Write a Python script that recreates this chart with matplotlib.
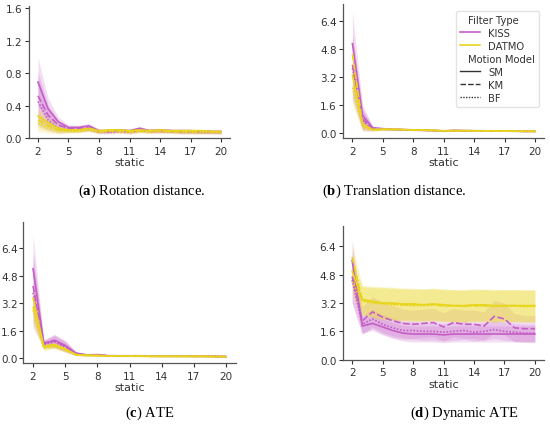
import numpy as np
import matplotlib
matplotlib.use("Agg")
import matplotlib.pyplot as plt
from matplotlib.lines import Line2D

plt.rcParams['font.family'] = ['DejaVu Sans']
plt.rcParams['mathtext.fontset'] = 'custom'
plt.rcParams['mathtext.rm'] = 'Liberation Serif'
plt.rcParams['mathtext.bf'] = 'Liberation Serif:bold'

static = list(range(2, 21))
filters = ["KISS", "DATMO"]
models = ["SM", "KM", "BF"]
xticks = [2, 5, 8, 11, 14, 17, 20]
captions = [r"($\mathbf{a}$) Rotation distance.", r"($\mathbf{b}$) Translation distance.",
            r"($\mathbf{c}$) ATE", r"($\mathbf{d}$) Dynamic ATE"]

# (a) Rotation distance
a_kiss_sm = [0.69, 0.36, 0.20, 0.13, 0.13, 0.15, 0.09, 0.09, 0.10, 0.09, 0.12, 0.09, 0.10, 0.09, 0.09, 0.09, 0.08, 0.08, 0.08]
a_kiss_km = [0.52, 0.28, 0.16, 0.12, 0.12, 0.13, 0.09, 0.08, 0.09, 0.08, 0.10, 0.09, 0.09, 0.09, 0.08, 0.08, 0.08, 0.08, 0.07]
a_kiss_bf = [0.45, 0.22, 0.12, 0.10, 0.10, 0.11, 0.07, 0.07, 0.08, 0.07, 0.09, 0.08, 0.08, 0.08, 0.07, 0.07, 0.07, 0.07, 0.07]
a_datmo_sm = [0.27, 0.19, 0.12, 0.10, 0.10, 0.12, 0.09, 0.10, 0.10, 0.09, 0.10, 0.09, 0.10, 0.09, 0.09, 0.09, 0.09, 0.08, 0.08]
a_datmo_km = [0.22, 0.15, 0.10, 0.09, 0.09, 0.11, 0.08, 0.09, 0.09, 0.08, 0.09, 0.08, 0.09, 0.08, 0.08, 0.08, 0.08, 0.08, 0.07]
a_datmo_bf = [0.18, 0.12, 0.09, 0.08, 0.08, 0.10, 0.07, 0.08, 0.08, 0.07, 0.08, 0.08, 0.08, 0.08, 0.07, 0.07, 0.07, 0.07, 0.07]
a_kiss_err = [0.30, 0.13, 0.06, 0.03, 0.03, 0.03, 0.02, 0.02, 0.02, 0.02, 0.02, 0.02, 0.02, 0.02, 0.02, 0.02, 0.02, 0.02, 0.02]
a_datmo_err = [0.10, 0.06, 0.04, 0.02, 0.02, 0.02, 0.02, 0.02, 0.02, 0.02, 0.02, 0.02, 0.02, 0.02, 0.02, 0.02, 0.02, 0.02, 0.02]

# (b) Translation distance
b_kiss_sm = [5.10, 1.00, 0.30, 0.25, 0.22, 0.20, 0.18, 0.17, 0.15, 0.12, 0.15, 0.14, 0.13, 0.13, 0.12, 0.12, 0.11, 0.10, 0.10]
b_kiss_km = [3.90, 0.80, 0.25, 0.23, 0.21, 0.19, 0.17, 0.16, 0.14, 0.12, 0.14, 0.13, 0.13, 0.12, 0.12, 0.11, 0.11, 0.10, 0.10]
b_kiss_bf = [3.70, 0.70, 0.22, 0.22, 0.20, 0.18, 0.17, 0.16, 0.14, 0.12, 0.14, 0.13, 0.12, 0.12, 0.11, 0.11, 0.10, 0.10, 0.10]
b_datmo_sm = [3.30, 0.45, 0.20, 0.22, 0.22, 0.20, 0.18, 0.17, 0.15, 0.13, 0.14, 0.14, 0.13, 0.13, 0.12, 0.12, 0.11, 0.10, 0.10]
b_datmo_km = [4.50, 0.50, 0.20, 0.21, 0.21, 0.19, 0.17, 0.16, 0.15, 0.13, 0.14, 0.13, 0.13, 0.12, 0.12, 0.11, 0.11, 0.10, 0.10]
b_datmo_bf = [2.60, 0.40, 0.18, 0.20, 0.20, 0.19, 0.17, 0.16, 0.14, 0.12, 0.13, 0.13, 0.12, 0.12, 0.11, 0.11, 0.10, 0.10, 0.10]
b_kiss_err = [1.80, 0.60, 0.10, 0.05, 0.04, 0.03, 0.03, 0.03, 0.02, 0.02, 0.02, 0.02, 0.02, 0.02, 0.02, 0.02, 0.02, 0.02, 0.02]
b_datmo_err = [1.00, 0.25, 0.06, 0.04, 0.03, 0.03, 0.03, 0.03, 0.02, 0.02, 0.02, 0.02, 0.02, 0.02, 0.02, 0.02, 0.02, 0.02, 0.02]

# (c) ATE
c_kiss_sm = [5.20, 0.85, 1.05, 0.75, 0.30, 0.20, 0.22, 0.15, 0.15, 0.15, 0.15, 0.13, 0.13, 0.13, 0.13, 0.13, 0.13, 0.12, 0.10]
c_kiss_km = [4.20, 0.90, 1.00, 0.70, 0.28, 0.20, 0.20, 0.15, 0.15, 0.14, 0.14, 0.13, 0.13, 0.13, 0.13, 0.12, 0.12, 0.11, 0.10]
c_kiss_bf = [3.80, 0.80, 0.95, 0.65, 0.27, 0.19, 0.19, 0.14, 0.14, 0.14, 0.14, 0.13, 0.12, 0.12, 0.12, 0.12, 0.12, 0.11, 0.10]
c_datmo_sm = [3.50, 0.70, 0.80, 0.55, 0.22, 0.18, 0.17, 0.14, 0.14, 0.13, 0.13, 0.12, 0.12, 0.12, 0.12, 0.12, 0.12, 0.11, 0.10]
c_datmo_km = [3.00, 0.65, 0.75, 0.50, 0.21, 0.17, 0.16, 0.14, 0.13, 0.13, 0.13, 0.12, 0.12, 0.12, 0.12, 0.11, 0.11, 0.10, 0.10]
c_datmo_bf = [2.80, 0.60, 0.70, 0.50, 0.20, 0.17, 0.16, 0.13, 0.13, 0.13, 0.12, 0.12, 0.12, 0.11, 0.11, 0.11, 0.11, 0.10, 0.10]
c_kiss_err = [2.00, 0.20, 0.35, 0.30, 0.10, 0.05, 0.05, 0.03, 0.03, 0.03, 0.03, 0.03, 0.03, 0.03, 0.03, 0.03, 0.03, 0.03, 0.03]
c_datmo_err = [0.90, 0.15, 0.15, 0.12, 0.05, 0.04, 0.03, 0.03, 0.03, 0.03, 0.03, 0.03, 0.03, 0.03, 0.03, 0.03, 0.03, 0.03, 0.03]

# (d) Dynamic ATE
d_kiss_sm = [5.60, 1.90, 2.05, 1.85, 1.65, 1.50, 1.45, 1.45, 1.45, 1.40, 1.45, 1.45, 1.45, 1.45, 1.45, 1.45, 1.45, 1.45, 1.45]
d_kiss_km = [4.70, 2.20, 2.70, 2.40, 2.20, 2.05, 2.00, 2.05, 2.10, 1.85, 2.10, 2.00, 2.00, 1.90, 2.45, 2.30, 1.80, 1.75, 1.75]
d_kiss_bf = [4.50, 2.00, 2.30, 2.00, 1.80, 1.65, 1.65, 1.60, 1.60, 1.55, 1.60, 1.65, 1.55, 1.60, 1.70, 1.60, 1.55, 1.50, 1.50]
d_datmo_sm = [5.00, 3.40, 3.30, 3.20, 3.20, 3.15, 3.15, 3.10, 3.15, 3.10, 3.05, 3.05, 3.10, 3.10, 3.05, 3.05, 3.05, 3.05, 3.05]
d_datmo_km = [5.80, 3.35, 3.25, 3.20, 3.15, 3.10, 3.10, 3.10, 3.10, 3.05, 3.05, 3.05, 3.05, 3.05, 3.05, 3.05, 3.05, 3.05, 3.05]
d_datmo_bf = [4.40, 3.30, 3.20, 3.15, 3.10, 3.10, 3.05, 3.05, 3.10, 3.05, 3.05, 3.00, 3.05, 3.05, 3.00, 3.05, 3.05, 3.00, 3.00]
d_kiss_sm_err = [1.20, 0.40, 0.40, 0.45, 0.45, 0.45, 0.45, 0.45, 0.45, 0.45, 0.45, 0.45, 0.45, 0.45, 0.45, 0.45, 0.45, 0.45, 0.45]
d_kiss_km_err = [1.50, 0.80, 0.85, 0.85, 0.85, 0.80, 0.80, 0.80, 0.80, 0.80, 0.80, 0.80, 0.80, 0.80, 0.90, 0.90, 0.80, 0.75, 0.75]
d_kiss_bf_err = [1.30, 0.50, 0.55, 0.55, 0.55, 0.50, 0.50, 0.50, 0.50, 0.50, 0.50, 0.50, 0.50, 0.50, 0.50, 0.50, 0.50, 0.50, 0.50]
d_datmo_err = [0.80, 0.80, 0.85, 0.90, 0.90, 0.90, 0.90, 0.90, 0.90, 0.90, 0.90, 0.90, 0.90, 0.90, 0.90, 0.90, 0.90, 0.90, 0.90]

colors = {"KISS": "#c45ec6", "DATMO": "#e8d61e"}
dashes = {"SM": (None, None), "KM": (4, 1.5), "BF": (1, 1)}

panels = [
    {"KISS": [(a_kiss_sm, a_kiss_err), (a_kiss_km, a_kiss_err), (a_kiss_bf, a_kiss_err)],
     "DATMO": [(a_datmo_sm, a_datmo_err), (a_datmo_km, a_datmo_err), (a_datmo_bf, a_datmo_err)]},
    {"KISS": [(b_kiss_sm, b_kiss_err), (b_kiss_km, b_kiss_err), (b_kiss_bf, b_kiss_err)],
     "DATMO": [(b_datmo_sm, b_datmo_err), (b_datmo_km, b_datmo_err), (b_datmo_bf, b_datmo_err)]},
    {"KISS": [(c_kiss_sm, c_kiss_err), (c_kiss_km, c_kiss_err), (c_kiss_bf, c_kiss_err)],
     "DATMO": [(c_datmo_sm, c_datmo_err), (c_datmo_km, c_datmo_err), (c_datmo_bf, c_datmo_err)]},
    {"KISS": [(d_kiss_sm, d_kiss_sm_err), (d_kiss_km, d_kiss_km_err), (d_kiss_bf, d_kiss_bf_err)],
     "DATMO": [(d_datmo_sm, d_datmo_err), (d_datmo_km, d_datmo_err), (d_datmo_bf, d_datmo_err)]},
]

W, H = 550, 427
def rect(l, r, t, b):
    return [l / W, 1 - b / H, (r - l) / W, (b - t) / H]

rects = [rect(28.8, 230.2, 7, 139), rect(343.3, 544.3, 5, 139.3),
         rect(23.4, 235.6, 223, 364), rect(343, 544, 227, 360.7)]
ylims = [(0, 1.628), (-0.3, 7.37), (-0.27, 7.91), (0, 7.55)]
yticks = [[0, 0.4, 0.8, 1.2, 1.6], [0, 1.6, 3.2, 4.8, 6.4],
          [0, 1.6, 3.2, 4.8, 6.4], [0, 1.6, 3.2, 4.8, 6.4]]
cap_pos = [(142, 191), (394, 191), (150, 413), (464, 413)]
ypads = [2, 2, 1.2, 2]

fig = plt.figure(figsize=(W / 100, H / 100), dpi=100)
x = np.array(static)
for i, pdata in enumerate(panels):
    ax = fig.add_axes(rects[i])
    for f in filters:
        for m, (mean, err) in zip(models, pdata[f]):
            mean = np.array(mean)
            err = np.array(err)
            ax.fill_between(x, mean - err, mean + err, color=colors[f], alpha=0.2, lw=0)
    for f in filters:
        for m, (mean, err) in zip(models, pdata[f]):
            ln, = ax.plot(x, mean, color=colors[f], lw=1.2)
            if m != "SM":
                ln.set_dashes(dashes[m])
    ax.set_xlim(1.1, 20.9)
    ax.set_ylim(*ylims[i])
    ax.set_xticks(xticks)
    ax.set_yticks(yticks[i])
    ax.set_yticklabels([f"{v:.1f}" for v in yticks[i]])
    for s in ["top", "right"]:
        ax.spines[s].set_visible(False)
    for s in ["left", "bottom"]:
        ax.spines[s].set_color("#555555")
        ax.spines[s].set_linewidth(0.9)
    ax.tick_params(labelsize=7.5, colors="#333333", length=3, width=0.8, pad=2.5)
    ax.tick_params(axis="y", pad=ypads[i], length=2.8)
    ax.set_xlabel("static", fontsize=8, color="#333333", labelpad=1)
    fig.text(cap_pos[i][0] / W, 1 - cap_pos[i][1] / H, captions[i],
             ha="center", va="center", fontsize=10.5, family="Liberation Serif")
    if i == 1:
        blank = Line2D([], [], color="none")
        handles = [blank,
                   Line2D([], [], color=colors["KISS"], lw=1.2),
                   Line2D([], [], color=colors["DATMO"], lw=1.2),
                   blank,
                   Line2D([], [], color="#333333", lw=1.0),
                   Line2D([], [], color="#333333", lw=1.0, dashes=dashes["KM"]),
                   Line2D([], [], color="#333333", lw=1.0, dashes=dashes["BF"])]
        labels = ["Filter Type"] + filters + ["Motion Model"] + models
        leg = ax.legend(handles, labels, loc="upper right",
                        bbox_to_anchor=(0.985, 0.963), fontsize=7.2,
                        frameon=True, fancybox=True, edgecolor="#dddddd",
                        handlelength=2.0, handletextpad=0.8, labelspacing=0.3,
                        borderpad=0.4, borderaxespad=0.2)
        for t in leg.get_texts():
            t.set_color("#333333")
        hbox = leg._legend_handle_box
        for col in hbox.get_children():
            for row, lab in zip(col.get_children(), labels):
                if lab in ("Filter Type", "Motion Model"):
                    row.get_children()[0].width = 0

fig.savefig("out.png", dpi=100)
